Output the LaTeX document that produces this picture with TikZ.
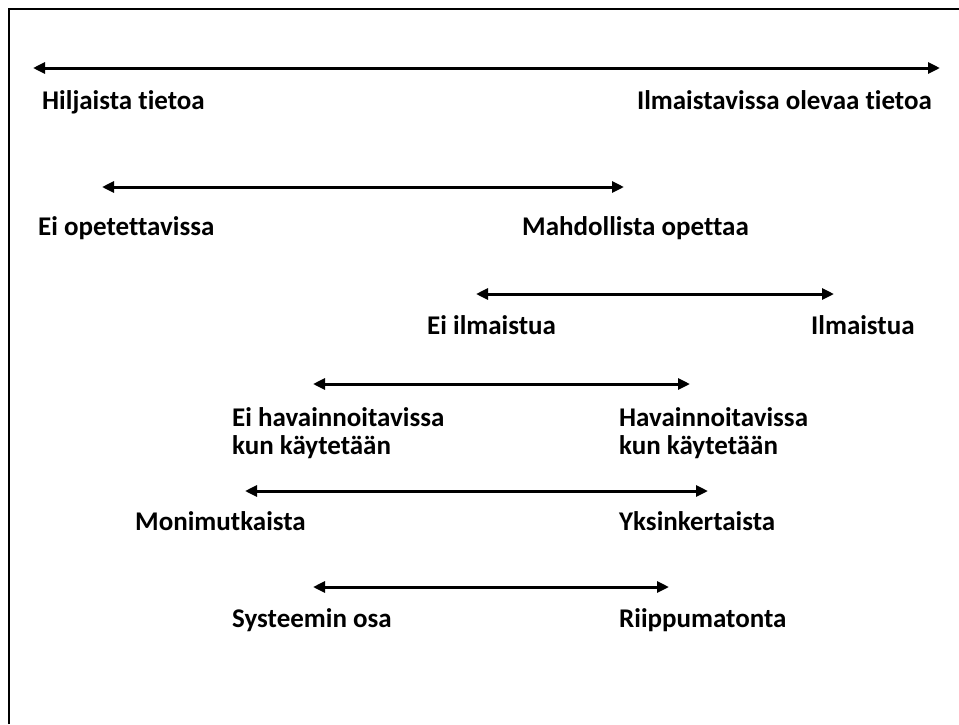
\documentclass[tikz,border=0pt]{standalone}
\usepackage{fontspec}
\setmainfont[Ligatures=NoCommon]{Carlito}
\usetikzlibrary{arrows.meta}
\begin{document}
\begin{tikzpicture}[x=1pt,y=-1pt,
  dbl/.style={{Triangle[length=12pt,width=11pt]}-{Triangle[length=12pt,width=11pt]}, line width=3pt},
  lbl/.style={anchor=base west, inner sep=0pt, font=\fontsize{27}{28}\selectfont\bfseries, align=left},
  lblr/.style={anchor=base east, inner sep=0pt, font=\fontsize{27}{28}\selectfont\bfseries, align=left},
  frame/.style={line width=2pt}]
\useasboundingbox (0,0) rectangle (959,724);
\draw[frame] (9,724) -- (9,9) -- (959,9);
% row 1
\coordinate (a1) at (33,68); \coordinate (b1) at (940,68);
\draw[dbl] (a1) -- (b1);
\node[lbl] (l1) at (42,109) {Hiljaista tietoa};
\node[lblr] (r1) at (932,109) {Ilmaistavissa olevaa tietoa};
% row 2
\coordinate (a2) at (102,187); \coordinate (b2) at (624,187);
\draw[dbl] (a2) -- (b2);
\node[lbl] (l2) at (38,235) {Ei opetettavissa};
\node[lbl] (r2) at (522,235) {Mahdollista opettaa};
% row 3
\coordinate (a3) at (476,294); \coordinate (b3) at (834,294);
\draw[dbl] (a3) -- (b3);
\node[lbl] (l3) at (427,334) {Ei ilmaistua};
\node[lbl] (r3) at (811,334) {Ilmaistua};
% row 4
\coordinate (a4) at (313,384); \coordinate (b4) at (690,384);
\draw[dbl] (a4) -- (b4);
\node[lbl] (l4) at (232,454) {Ei havainnoitavissa\\kun käytetään};
\node[lbl] (r4) at (619,454) {Havainnoitavissa\\kun käytetään};
% row 5
\coordinate (a5) at (245,491); \coordinate (b5) at (708,491);
\draw[dbl] (a5) -- (b5);
\node[lbl] (l5) at (135,530) {Monimutkaista};
\node[lbl] (r5) at (619,530) {Yksinkertaista};
% row 6
\coordinate (a6) at (313,587); \coordinate (b6) at (669,587);
\draw[dbl] (a6) -- (b6);
\node[lbl] (l6) at (232,627) {Systeemin osa};
\node[lbl] (r6) at (619,627) {Riippumatonta};
\end{tikzpicture}
\end{document}
